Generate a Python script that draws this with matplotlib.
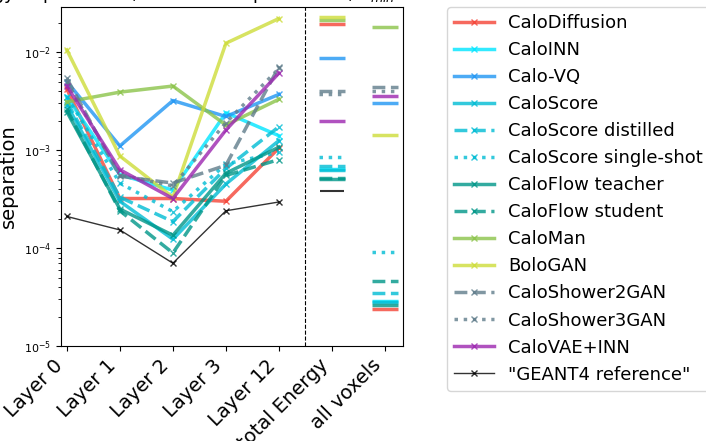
import matplotlib
matplotlib.use("Agg")
import matplotlib.pyplot as plt

# x categories
layers = ["Layer 0", "Layer 1", "Layer 2", "Layer 3", "Layer 12"]
extra = ["total Energy", "all voxels"]

# model names, colours, line styles
models = ["CaloDiffusion", "CaloINN", "Calo-VQ", "CaloScore", "CaloScore distilled",
          "CaloScore single-shot", "CaloFlow teacher", "CaloFlow student", "CaloMan",
          "BoloGAN", "CaloShower2GAN", "CaloShower3GAN", "CaloVAE+INN"]
colors = ["#f44336", "#00e5ff", "#2196f3", "#00bcd4", "#00bcd4", "#00bcd4", "#009688",
          "#009688", "#8bc34a", "#cddc39", "#607d8b", "#607d8b", "#9c27b0"]
styles = ["-", "-", "-", "-", "--", ":", "-", "--", "-", "-", "--", ":", "-"]

# separation per layer
layer_sep = {
    "CaloDiffusion":         [4.2e-3, 3.2e-4, 3.2e-4, 3.0e-4, 1.05e-3],
    "CaloINN":               [3.5e-3, 5.6e-4, 3.9e-4, 2.4e-3, 1.4e-3],
    "Calo-VQ":               [5.0e-3, 1.1e-3, 3.2e-3, 2.2e-3, 3.7e-3],
    "CaloScore":             [2.9e-3, 3.0e-4, 1.23e-4, 4.5e-4, 1.25e-3],
    "CaloScore distilled":   [3.1e-3, 3.3e-4, 1.86e-4, 6.5e-4, 1.73e-3],
    "CaloScore single-shot": [3.5e-3, 4.6e-4, 2.35e-4, 7.2e-4, 9.5e-4],
    "CaloFlow teacher":      [2.46e-3, 2.5e-4, 1.35e-4, 5.8e-4, 1.07e-3],
    "CaloFlow student":      [2.6e-3, 2.4e-4, 8.9e-5, 5.5e-4, 8.0e-4],
    "CaloMan":               [3.1e-3, 3.9e-3, 4.5e-3, 1.8e-3, 3.3e-3],
    "BoloGAN":               [1.05e-2, 8.7e-4, 3.3e-4, 1.23e-2, 2.2e-2],
    "CaloShower2GAN":        [5.4e-3, 5.4e-4, 4.6e-4, 7.0e-4, 7.1e-3],
    "CaloShower3GAN":        [5.0e-3, 5.6e-4, 4.3e-4, 1.9e-3, 6.8e-3],
    "CaloVAE+INN":           [4.5e-3, 6.3e-4, 3.2e-4, 1.6e-3, 6.1e-3],
}
geant4 = [2.1e-4, 1.53e-4, 7.0e-5, 2.4e-4, 2.95e-4]

# separation of total energy and all voxels
total_energy = [1.92e-2, 6.4e-4, 8.6e-3, 6.2e-4, 6.8e-4, 8.5e-4, 5.06e-4, 5.2e-4,
                2.1e-2, 2.26e-2, 4.0e-3, 3.7e-3, 2.0e-3]
all_voxels = [2.4e-5, 2.9e-5, 3.0e-3, 2.8e-5, 3.5e-5, 9.1e-5, 2.65e-5, 4.6e-5,
              1.8e-2, 1.42e-3, 4.36e-3, 4.0e-3, 3.6e-3]
geant4_total = 3.8e-4

fig = plt.figure(figsize=(7.06, 4.41), dpi=100)
ax = fig.add_axes([61 / 706, 1 - 346 / 441, 342 / 706, 339 / 441])

xs = list(range(len(layers)))
for i, m in enumerate(models):
    ax.plot(xs, layer_sep[m], color=colors[i], ls=styles[i], marker="x", ms=5, lw=2.5,
            alpha=0.8, label=m)
    ax.hlines(total_energy[i], 4.75, 5.25, color=colors[i], ls=styles[i], lw=2.5, alpha=0.8)
    ax.hlines(all_voxels[i], 5.75, 6.25, color=colors[i], ls=styles[i], lw=2.5, alpha=0.8)
ax.plot(xs, geant4, color="black", marker="x", ms=5, lw=1, alpha=0.8,
        label='"GEANT4 reference"')
ax.hlines(geant4_total, 4.78, 5.22, color="black", lw=1.5, alpha=0.8)

ax.axvline(4.5, color="black", ls="--", lw=0.8)
ax.set_yscale("log")
ax.set_ylim(1e-5, 10 ** -1.54)
ax.set_xlim(-0.11, 6.34)
ax.set_xticks(range(7))
ax.set_xticklabels(layers + extra, rotation=45, ha="right", fontsize=14)
ax.tick_params(axis="y", labelsize=8)
ax.set_ylabel("separation", fontsize=14)

ax.legend(loc="upper left", bbox_to_anchor=(447 / 706, 1 - 7 / 441),
          bbox_transform=fig.transFigure, borderaxespad=0, fontsize=13,
          handlelength=2.2, labelspacing=0.5)

fig.text(395 / 706, 1 + 6 / 441, "Energy dependence, ratio of 2 in preshower, $E_{min}$",
         ha="right", va="center", fontsize=13)

fig.savefig("out.png", dpi=100)
